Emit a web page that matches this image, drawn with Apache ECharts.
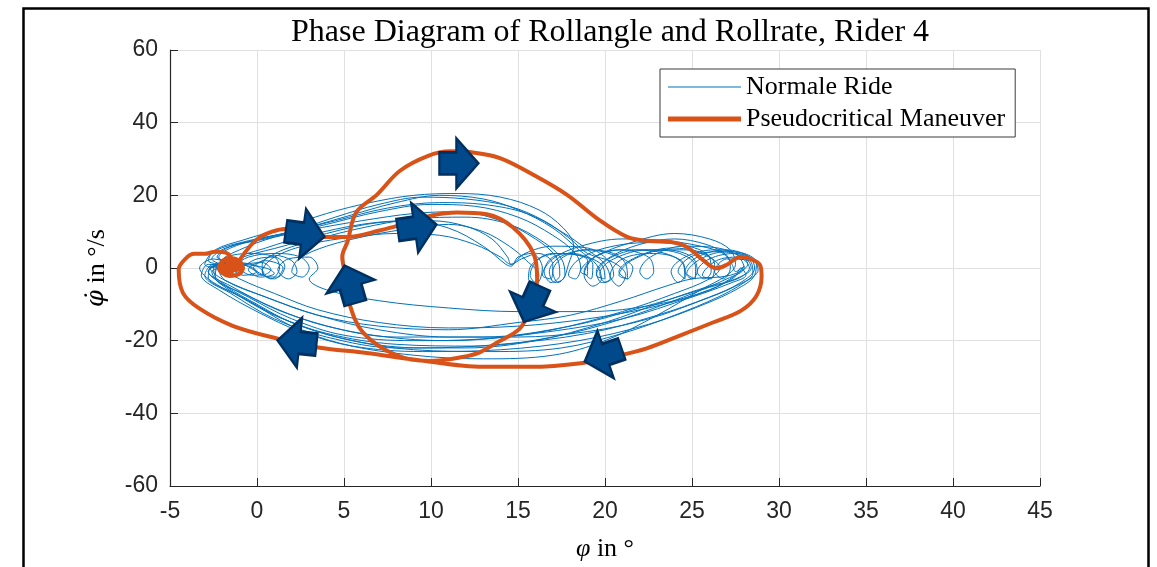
<!DOCTYPE html>
<html><head><meta charset="utf-8">
<script src="https://cdn.jsdelivr.net/npm/echarts@6/dist/echarts.min.js"></script>
<style>html,body{margin:0;padding:0;background:#fff}#c{width:1157px;height:567px}</style>
</head><body><div id="c"></div>
<script>
const titleText = 'Phase Diagram of Rollangle and Rollrate, Rider 4';
const xName = '{i|φ} in °';
const yName = '{i|φ̇} in °/s';
const xRange = [-5, 45, 5];
const yRange = [-60, 60, 20];
const seriesNames = ['Normale Ride', 'Pseudocritical Maneuver'];

// Normal ride laps (roll angle [deg], roll rate [deg/s])
const lap1 = [[-1.2,0],[-2.6,2.5],[-1.8,5.5],[0.5,8],[3,10.5],[6,13],[9,15],[11.5,15.5],[14,13],[16,8],[17.2,3],[17.4,-2],[16.9,-4],[16.5,-1],[17,3],[18.2,4],[19.3,1],[19.2,-3],[18.8,-1],[19.4,3],[21,5],[23,4.5],[24.5,1],[24.6,-3],[24.2,-1],[24.9,3],[26.5,4.5],[28,3],[28.4,0],[27.5,-3],[25.5,-6],[22,-11],[18,-16],[13,-19],[8,-19],[4,-16],[1,-11],[-1.5,-5],[-2.8,-1],[-2,1.5],[-0.5,0.5],[0,-1],[-0.8,-2],[-1.5,-0.5]];
const lap2 = [[-1.5,-0.5],[-3,1],[-2.5,4.5],[-0.5,7.5],[2,10],[5,14],[8,18],[10.5,20],[13,19],[15,16],[17,11],[18.5,5],[19.5,1],[19.8,-3],[19.3,-5],[18.8,-2],[19.4,3],[20.8,5],[22.5,3],[22.8,-1],[22.4,-3],[22,-1],[22.6,3],[24.5,6],[26.5,5.5],[27.8,3],[28.3,0],[27.6,-3],[26,-5],[23.5,-9],[20,-15],[16,-20],[12,-22],[8,-22],[4,-19],[1,-14],[-1.5,-7],[-3,-2],[-2.5,1],[-1,1],[0.5,0],[1,-1.5],[0.2,-2.5],[-0.5,-0.5]];
const lap3 = [[-0.5,-0.5],[0.5,2],[1.5,0],[1,-3],[0,-1],[-1,2.5],[0.5,5.5],[3,9],[6,12],[8.5,13],[11,11],[13,6],[14.3,1],[14.6,0.5],[15,3],[15.8,4],[16.4,0],[16.1,-4],[15.6,-3],[15.8,1],[17,4],[18.5,3.5],[19.8,1],[20,-3],[19.5,-2],[20.2,2.5],[22,5],[24.5,5],[26,3],[26.6,0],[26,-3],[24,-7],[21,-12],[17,-17],[13,-19.5],[9,-20],[5,-18.5],[2,-14],[-0.5,-8],[-2.3,-3],[-2.5,0.5],[-1.5,1.5]];
const lap4 = [[-1.5,1.5],[-2.3,3],[-1.5,6],[0,7.7],[2,10],[4.5,14],[7,17.5],[9.5,19.5],[12,19],[14.5,17],[16.5,13],[18,8],[19,4],[20.5,1.5],[21.2,-2],[20.8,-5],[20.3,-2],[21,2.5],[22.8,4],[24.4,2],[24.6,-2],[24.2,-4],[23.8,-1],[24.6,3],[26.3,5],[27.7,4],[28.2,1],[27.2,-2],[25,-3],[23.5,-5],[21,-9],[18,-13],[15,-15],[11,-17],[7,-16],[3.5,-13],[0.5,-8],[-1.8,-3.5],[-2.2,-0.5],[-1.3,0.8]];
const lap5 = [[-1.3,0.8],[-0.5,3],[1,4],[2.5,3],[3,0],[2.6,-2.5],[2,-1],[2.4,2.5],[4,6],[6.5,9],[9,11],[11,12],[13,10],[14.5,6],[15.5,2],[16.2,-2],[16,-4],[15.7,-2],[16.2,2.5],[17.5,4],[19,2],[19,-2],[18.6,-1],[19.4,3],[21.5,7],[24,9.5],[26,8],[27.2,5],[27.5,1],[27,-2],[25.5,-6],[23,-13],[20,-20],[17,-24],[13,-25],[9,-24],[5,-21],[2,-16],[-0.5,-9],[-2.5,-4],[-3.3,0],[-2.5,2.5],[-1.2,1]];
const lap6 = [[-1.2,1],[0.3,1.5],[0.8,-0.5],[0.3,-2],[-0.2,0],[0.5,2.5],[1.5,5],[3.5,8],[6,11],[9,13.5],[12,14],[14.5,12],[16.5,7],[17.5,2.5],[17.7,-2],[17.3,-4],[17,-1],[17.6,3],[19,5],[20.5,4],[21.2,1],[21.3,-3],[20.8,-2],[21.5,2],[23.5,5],[25,3],[25.3,-1],[25,-3],[24.6,-1],[25.3,3],[27,5],[28.3,3],[28.6,0],[27.8,-4],[26,-8],[23,-13],[19,-18],[14,-21],[9.5,-22],[5.5,-20],[2,-15],[-0.5,-9],[-2.2,-4],[-2.6,-1],[-1.7,0.5]];
const lap7 = [[-1.7,0.5],[-2.8,2],[-2.4,5],[-0.8,7.7],[1.5,11],[4,15],[6.5,18],[9,20],[11.5,20.5],[14,19.5],[16.2,16],[17.6,11],[18.2,6],[17.9,1],[17.6,-3],[17.1,-4],[16.8,-1],[17.4,3],[19,5],[20.8,3],[21.6,0],[21.3,-3],[20.8,-1],[21.8,3],[23.8,5.5],[25.7,4],[26.3,1],[26.1,-3],[25.6,-2],[26.4,2],[27.6,3],[28,0],[27,-3],[24.5,-8],[21,-14],[17,-19],[12.5,-21.5],[8,-21],[4,-18],[1,-13],[-1.3,-7],[-2.8,-2.5],[-2.6,0.5],[-1.5,0]];
const lap8 = [[-1.5,0],[-1.8,2.5],[-0.5,4],[1,3],[1.3,0],[0.8,-3],[0.3,-1],[1,3],[3,6.5],[5.5,8.5],[8,9.5],[10.5,9],[12.5,6.5],[14,3],[14.6,1],[15.2,2.5],[16.2,4],[17,1],[16.9,-3],[16.4,-2],[17,2.5],[18.6,6],[21,8],[23.5,7.5],[25.5,6],[26.8,4],[27.3,1],[27.5,-1],[28,0.5],[27.3,-3],[25.5,-7],[22.5,-11],[19,-14],[15,-16],[11,-16.5],[7,-15],[3.5,-11.5],[1,-7],[-1,-3],[-2,0],[-1.2,1.5],[0,0.5],[0.4,-1.5],[-0.3,-2],[-1,-0.5]];
const lap9 = [[-1,-0.5],[-2,2],[-1,5],[1,8.5],[4,12],[7,15.5],[10,17.5],[12.5,17],[15,14],[17,9],[18.3,4],[18.6,0],[18.3,-3],[17.9,-2],[18.4,2],[20,5.5],[22.5,7],[24.8,6],[26,3],[26.1,-1],[25.7,-3],[25.3,-1],[26,2.5],[27.5,4],[28.5,2.5],[28.8,-0.5],[28,-4],[26.5,-8],[24,-13],[21,-18],[17.5,-22],[13.5,-23],[9,-22.5],[5,-19.5],[2,-15],[0,-10],[-1.8,-5],[-2.8,-1],[-2,1],[-1.2,0]];
const lap10 = [[-1.2,0],[0,2.5],[1,3],[1.6,0.5],[1.2,-2.5],[0.4,-2],[0.3,1],[1,3.5],[2,2],[2.3,-1],[1.8,-3],[1.2,-0.5],[1.8,2.5],[3,3],[3.5,0],[3,-3],[4,-6],[7,-9],[11,-11],[15,-12],[19,-12],[23,-10],[26,-6],[27.5,-2],[27.8,0],[28.1,-2],[27.3,-4],[25,-8],[21,-14],[16,-18],[11,-20],[6,-18],[2,-13],[-0.8,-7],[-2.4,-2.5],[-2.2,0.8],[-1.2,0]];
const lap11 = [[-1.2,0],[-2.2,3],[-1,6.5],[1.5,9.5],[4.5,13],[7.5,16.5],[10.5,18],[13,17.5],[15.5,15],[17.5,10],[19,5],[20,1],[20.3,-3],[19.8,-4],[19.5,-1],[20.3,3],[22,6.5],[24,8],[25.8,6.5],[27,3.5],[27.2,0],[26.8,-3],[26.3,-1],[27,2.5],[28.3,2],[28.5,-1.5],[27.5,-5],[25.5,-9],[22.5,-14],[19,-17.5],[15,-19],[11,-19],[7,-17],[3.5,-13],[0.5,-8],[-2,-3],[-2.7,0],[-1.8,1.2]];
const lap12 = [[-1.8,1.2],[-0.5,3.5],[1.5,6],[4,9.5],[7,12.5],[10,13],[12,11.5],[13.5,8],[14.4,3],[14.6,1],[15.4,4],[17,6],[19,5.5],[20.2,2],[20.5,-2],[20,-4],[19.7,-1.5],[20.5,2.5],[22.5,5],[24.3,4],[25.2,0.5],[25.2,-3],[24.7,-1.5],[25.5,2.5],[27,4.5],[28,4],[28.7,1.5],[28.6,-2],[27.7,-5.5],[25.7,-10],[22.5,-15.5],[18.5,-20],[14,-22.5],[9.5,-23],[5.5,-21.5],[2.5,-17.5],[0,-12],[-2.2,-6],[-3.2,-2],[-2.8,1],[-1.5,0.5]];

// Pseudocritical maneuver trajectory
const maneuver = [[-1.5,0],[-1.0,1.8],[-1.6,2.8],[-2.1,1.0],[-1.9,-1.5],[-1.2,-2.0],[-0.8,0],[-1.2,2.2],[-1.9,2.0],[-2.2,0],[-1.6,-2.2],[-0.9,-1.0],[-0.9,1.2],[-1.5,2.5],[-2.0,1.5],[-1.9,-0.8],[-1.4,-1.2],[-1.5,0.3],[-1.2,0.9],[-1.5,1.3],[-1.8,0.6],[-1.6,-0.4],[-1.25,-0.2],[-1.3,0.6],[-1.6,0.9],[-1.7,0.1],[-1.35,-0.6],[-1.0,-0.2],[-1.1,0.4],[-0.57,5.0],[0.17,8.5],[1.15,10.4],[1.9,10.7],[3.8,8.5],[5.2,8.5],[7.1,10.4],[8.2,11.8],[10.1,14.5],[11.5,15.3],[13.2,14.8],[14.7,11.2],[15.9,3.9],[16.1,-3.1],[15.7,-11.2],[15.1,-16.7],[13.8,-20.5],[12.8,-23.2],[11.8,-24.5],[9.9,-25.6],[8.0,-24.0],[6.1,-17.8],[5.3,-9.6],[5.1,-2.3],[4.9,3.1],[5.2,7.2],[5.7,15.3],[6.9,20.2],[8.2,26.7],[9.8,30.8],[11.1,32.1],[12.4,31.8],[14.0,30.2],[15.9,25.6],[17.8,20.2],[19.7,13.1],[21.3,8.5],[22.4,7.5],[23.7,7.2],[24.7,5.8],[25.6,2.3],[26.4,-0.1],[27.0,0.9],[27.8,3.1],[28.3,2.6],[28.9,0.9],[29.0,-2.3],[28.7,-7.7],[27.8,-11.8],[26.2,-15.0],[24.3,-18.6],[22.4,-22.1],[20.9,-24.0],[18.6,-26.2],[15.7,-27.2],[13.0,-27.2],[9.2,-25.3],[6.3,-23.4],[3.4,-21.8],[1.15,-19.4],[-1.4,-15.9],[-3.3,-11.2],[-4.25,-6.9],[-4.5,-0.4],[-4.1,2.6],[-3.6,3.9],[-3.0,3.9],[-2.4,4.5],[-1.8,4.2],[-1.4,1.8],[-1.4,0]];

// direction arrows: [x, y, direction angle in degrees]
const arrows = [[11.6,28.8,0],[2.76,9.35,-8],[9.2,11.2,8],[5.34,-4.5,106],[2.3,-20.5,174],[15.8,-9.9,246],[19.9,-24,199]];

const normalRide = [].concat(lap1, lap2, lap3, lap4, lap5, lap6, lap7, lap8, lap9, lap10, lap11, lap12);

const chart = echarts.init(document.getElementById('c'), null, {renderer: 'canvas'});
const serif = "'Liberation Serif', 'Times New Roman', serif";
const sans = "'Liberation Sans', Arial, sans-serif";
const axisCol = '#262626';
const thinIcon = 'path://M0,0 L0,0 M0,11.4 L73,11.4 L73,12.6 L0,12.6 Z M73,24 L73,24';
const thickIcon = 'path://M0,0 L0,0 M0,9.5 L73,9.5 L73,14.5 L0,14.5 Z M73,24 L73,24';

chart.setOption({
  animation: false,
  backgroundColor: '#fff',
  title: {
    text: titleText, left: 605, top: 12, textAlign: 'center',
    textStyle: {fontFamily: serif, fontWeight: 'normal', fontSize: 32, color: '#000'}
  },
  legend: {
    data: [{name: seriesNames[0], icon: thinIcon}, {name: seriesNames[1], icon: thickIcon}],
    orient: 'vertical', left: 660, top: 69,
    backgroundColor: '#fff', borderColor: '#3a3a3a', borderWidth: 1,
    padding: [5, 10, 5, 8], itemGap: 6, itemWidth: 73, itemHeight: 24,
    textStyle: {fontFamily: serif, fontSize: 26, color: '#000'}
  },
  grid: {left: 170, right: 117, top: 50, bottom: 74},
  xAxis: {
    type: 'value', min: xRange[0], max: xRange[1], interval: xRange[2],
    name: xName, nameLocation: 'middle', nameGap: 50,
    nameTextStyle: {fontFamily: serif, fontSize: 26, color: '#000', rich: {i: {fontFamily: serif, fontStyle: 'italic', fontSize: 26}}},
    axisLine: {onZero: false, lineStyle: {color: axisCol, width: 1.2}},
    axisTick: {inside: true, length: 8, lineStyle: {color: axisCol}},
    axisLabel: {fontFamily: sans, fontSize: 23, color: axisCol, margin: 14},
    splitLine: {show: true, lineStyle: {color: '#e0e0e0', width: 1}}
  },
  yAxis: {
    type: 'value', min: yRange[0], max: yRange[1], interval: yRange[2],
    name: yName, nameLocation: 'middle', nameGap: 60,
    nameTextStyle: {fontFamily: serif, fontSize: 26, color: '#000', rich: {i: {fontFamily: "'DejaVu Serif', serif", fontStyle: 'italic', fontSize: 24}}},
    axisLine: {onZero: false, lineStyle: {color: axisCol, width: 1.2}},
    axisTick: {inside: true, length: 8, lineStyle: {color: axisCol}},
    axisLabel: {fontFamily: sans, fontSize: 23, color: axisCol, margin: 12},
    splitLine: {show: true, lineStyle: {color: '#e0e0e0', width: 1}}
  },
  graphic: [{
    type: 'rect', left: 21, top: 6, z: 100,
    shape: {width: 1125, height: 600},
    style: {fill: 'none', stroke: '#000', lineWidth: 2.5}
  }],
  series: [
    {
      name: seriesNames[0], type: 'line', data: normalRide, showSymbol: false, symbol: 'none',
      smooth: 0.35, lineStyle: {color: '#0072BD', width: 1}, itemStyle: {color: '#0072BD'}, z: 2
    },
    {
      name: seriesNames[1], type: 'line', data: maneuver, showSymbol: false, symbol: 'none',
      smooth: 0.35, lineStyle: {color: '#D95319', width: 4}, itemStyle: {color: '#D95319'}, z: 3
    },
    {
      name: 'arrows', type: 'scatter', z: 4,
      data: arrows.map(a => ({value: [a[0], a[1]], symbolRotate: a[2]})),
      symbol: 'path://M0,14.5 L17,14.5 L17,0 L39,26 L17,52 L17,37.5 L0,37.5 Z',
      symbolSize: [39, 50],
      itemStyle: {color: '#004A8C', borderColor: '#00305F', borderWidth: 2.5, opacity: 1}
    }
  ]
});
</script>
</body></html>
